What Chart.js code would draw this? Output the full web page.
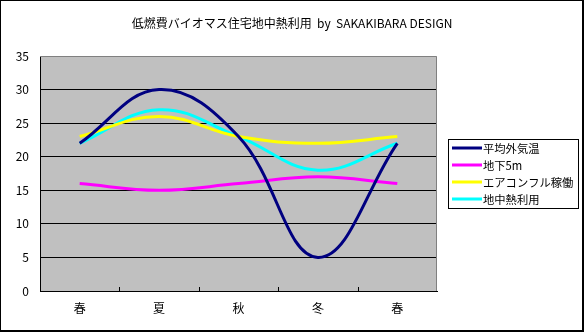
<!DOCTYPE html>
<html>
<head>
<meta charset="utf-8">
<script src="https://cdn.jsdelivr.net/npm/chart.js@4/dist/chart.umd.min.js"></script>
<style>
  html, body { margin: 0; padding: 0; background: #fff; }
  #wrap { width: 585px; height: 333px; }
</style>
</head>
<body>
<div id="wrap"><canvas id="myChart" width="585" height="333"></canvas></div>
<script>
const chartTitle = "低燃費バイオマス住宅地中熱利用  by  SAKAKIBARA DESIGN";
const seasons = ["春", "夏", "秋", "冬", "春"];
const outdoorTemp = [22, 30, 23, 5, 22];
const underground5m = [16, 15, 16, 17, 16];
const aircon = [23, 26, 23, 22, 23];
const geothermal = [22, 27, 23, 18, 22];
const yTicks = [0, 5, 10, 15, 20, 25, 30, 35];

const FONT = "'Noto Sans CJK JP', 'DejaVu Sans', sans-serif";

// plot background, inner category ticks, frame, title, legend box
const decorPlugin = {
  id: "decor",
  beforeDraw(chart) {
    const ctx = chart.ctx;
    const a = chart.chartArea;
    ctx.save();
    ctx.fillStyle = "#fff";
    ctx.fillRect(0, 0, chart.width, chart.height);
    ctx.fillStyle = "#c0c0c0";
    ctx.fillRect(a.left, a.top, a.right - a.left, a.bottom - a.top);
    ctx.restore();
  },
  beforeDatasetsDraw(chart) {
    const ctx = chart.ctx;
    const a = chart.chartArea;
    const x = chart.scales.x;
    ctx.save();
    // gray top/right border
    ctx.strokeStyle = "#808080";
    ctx.lineWidth = 1;
    ctx.beginPath();
    ctx.moveTo(a.left, a.top + 0.5);
    ctx.lineTo(a.right - 0.5, a.top + 0.5);
    ctx.lineTo(a.right - 0.5, a.bottom);
    ctx.stroke();
    // tick marks between categories, pointing inward
    ctx.strokeStyle = "#000";
    ctx.beginPath();
    for (let i = 0; i < seasons.length - 1; i++) {
      const px = Math.round((x.getPixelForValue(i) + x.getPixelForValue(i + 1)) / 2) + 0.5;
      ctx.moveTo(px, a.bottom);
      ctx.lineTo(px, a.bottom - 4);
    }
    ctx.stroke();
    ctx.restore();
  },
  afterDraw(chart) {
    const ctx = chart.ctx;
    ctx.save();
    // outer frame
    ctx.fillStyle = "#000";
    ctx.fillRect(0, 0, 584, 1);
    ctx.fillRect(0, 0, 1, 332);
    ctx.fillRect(582, 0, 2, 332);
    ctx.fillRect(0, 330, 584, 2);
    // title, centred on the whole picture
    ctx.font = "12px " + FONT;
    ctx.textAlign = "center";
    ctx.textBaseline = "middle";
    ctx.fillText(chartTitle, 292, 23);
    // legend
    const lx = 448, ly = 139, lw = 130, lh = 69;
    ctx.fillStyle = "#fff";
    ctx.fillRect(lx, ly, lw, lh);
    ctx.strokeStyle = "#000";
    ctx.lineWidth = 1;
    ctx.strokeRect(lx + 0.5, ly + 0.5, lw, lh);
    ctx.font = "11.3px " + FONT;
    ctx.textAlign = "left";
    chart.data.datasets.forEach((ds, i) => {
      const y = 148 + i * 17;
      ctx.strokeStyle = ds.borderColor;
      ctx.lineWidth = 3;
      ctx.beginPath();
      ctx.moveTo(452, y);
      ctx.lineTo(482, y);
      ctx.stroke();
      ctx.fillStyle = "#000";
      ctx.fillText(ds.label, 483, y + 1);
    });
    ctx.restore();
  }
};

new Chart("myChart", {
  type: "line",
  data: {
    labels: seasons,
    datasets: [
      { label: "平均外気温", data: outdoorTemp, borderColor: "#000080" },
      { label: "地下5m", data: underground5m, borderColor: "#ff00ff" },
      { label: "エアコンフル稼働", data: aircon, borderColor: "#ffff00" },
      { label: "地中熱利用", data: geothermal, borderColor: "#00ffff" }
    ]
  },
  options: {
    responsive: false,
    animation: false,
    devicePixelRatio: 1,
    elements: {
      line: { borderWidth: 3, tension: 0.4, fill: false },
      point: { radius: 0 }
    },
    layout: { padding: { left: 0, right: 148, top: 56, bottom: 0 } },
    plugins: {
      legend: { display: false },
      tooltip: { enabled: false },
      title: { display: false }
    },
    scales: {
      x: {
        offset: true,
        grid: { display: false, drawTicks: false },
        border: { display: true, color: "#000", width: 1 },
        ticks: { color: "#000", font: { family: FONT, size: 12 }, padding: 10 },
        afterFit(scale) { scale.height = 42; }
      },
      y: {
        min: 0,
        max: 35,
        afterBuildTicks(scale) { scale.ticks = yTicks.map(v => ({ value: v })); },
        grid: {
          color: (c) => (c.tick && c.tick.value === 35 ? "rgba(0,0,0,0)" : "#000"),
          drawTicks: false
        },
        border: { display: true, color: "#000", width: 1 },
        ticks: { color: "#000", font: { family: FONT, size: 12 }, padding: 11 },
        afterFit(scale) { scale.width = 40; }
      }
    }
  },
  plugins: [decorPlugin]
});
</script>
</body>
</html>
